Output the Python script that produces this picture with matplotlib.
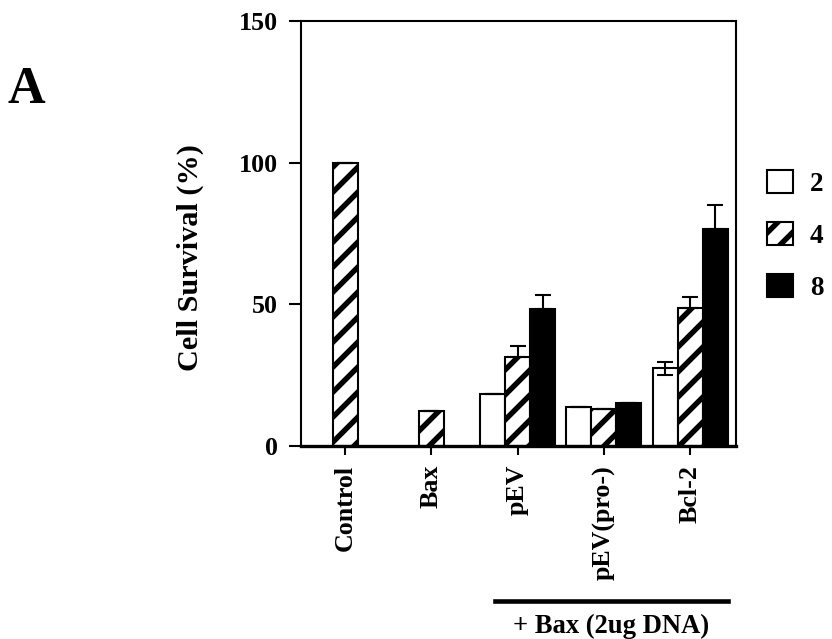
import numpy as np
import matplotlib
matplotlib.use('Agg')
import matplotlib.pyplot as plt

# data
groups = ['Control', 'Bax', 'pEV', 'pEV(pro-)', 'Bcl-2']
series = ['2', '4', '8']
surv_2 = [np.nan, np.nan, 18.5, 13.8, 27.5]
surv_4 = [100.0, 12.3, 31.3, 13.1, 48.7]
surv_8 = [np.nan, np.nan, 48.3, 15.2, 76.5]
err_lo_2 = [0, 0, 0, 0, 2.3]
err_up_2 = [0, 0, 0, 0, 2.3]
err_up_4 = [0, 0, 4.0, 0, 4.0]
err_up_8 = [0, 0, 5.0, 0, 8.5]

plt.rcParams['font.family'] = ['Liberation Serif', 'DejaVu Serif']
plt.rcParams['font.weight'] = 'bold'
plt.rcParams['hatch.linewidth'] = 2.6

fig = plt.figure(figsize=(832 / 150.0, 639 / 150.0), dpi=150)
ax = fig.add_axes([301 / 832.0, 1 - 446 / 639.0, 435 / 832.0, 425 / 639.0])

x = np.arange(len(groups))
w = 0.29
b2 = ax.bar(x - w, surv_2, w, color='white', edgecolor='black', linewidth=1.0, label=series[0])
b4 = ax.bar(x, surv_4, w, color='white', edgecolor='black', hatch='//', linewidth=1.0, label=series[1])
b8 = ax.bar(x + w, surv_8, w, color='black', edgecolor='black', linewidth=1.0, label=series[2])

ekw = dict(fmt='none', ecolor='black', elinewidth=1.0, capsize=3.8, capthick=1.0)
ax.errorbar(x - w, surv_2, yerr=[err_lo_2, err_up_2], **ekw)
ax.errorbar(x, surv_4, yerr=[np.zeros(5), err_up_4], **ekw)
ax.errorbar(x + w, surv_8, yerr=[np.zeros(5), err_up_8], **ekw)

ax.set_xlim(-0.51, 4.53)
ax.set_ylim(0, 150)
ax.set_yticks([0, 50, 100, 150])
ax.set_xticks(x)
ax.set_xticklabels(groups, rotation=90, fontsize=12.5, fontweight='bold')
for t in ax.get_yticklabels():
    t.set_fontsize(12.5)
    t.set_fontweight('bold')
ax.tick_params(axis='y', direction='out', length=6, width=1.0, pad=5)
ax.tick_params(axis='x', direction='out', length=4.5, width=1.0, pad=4.5)
for s in ['left', 'right', 'top']:
    ax.spines[s].set_linewidth(1.0)
ax.spines['bottom'].set_linewidth(1.6)

fig.text(190 / 832.0, 1 - 258 / 639.0, 'Cell Survival (%)', rotation=90,
         ha='center', va='center', fontsize=14.5, fontweight='bold')
fig.text(26 / 832.0, 1 - 90 / 639.0, 'A', ha='center', va='center',
         fontsize=25, fontweight='bold')

# bracket under the Bax-treated groups
fig.add_artist(plt.Line2D([495 / 832.0, 728 / 832.0], [1 - 601 / 639.0, 1 - 601 / 639.0],
                          color='black', linewidth=2.2))
fig.text(611 / 832.0, 1 - 626 / 639.0, '+ Bax (2ug DNA)', ha='center', va='center',
         fontsize=12.8, fontweight='bold')

leg = ax.legend(handles=[b2, b4, b8], loc='center left', bbox_to_anchor=(1.071, 0.496),
                frameon=False, fontsize=13, handlelength=0.96, handleheight=0.96,
                labelspacing=0.92, handletextpad=0.63, borderpad=0, borderaxespad=0)

plt.savefig('out.png', dpi=150)
